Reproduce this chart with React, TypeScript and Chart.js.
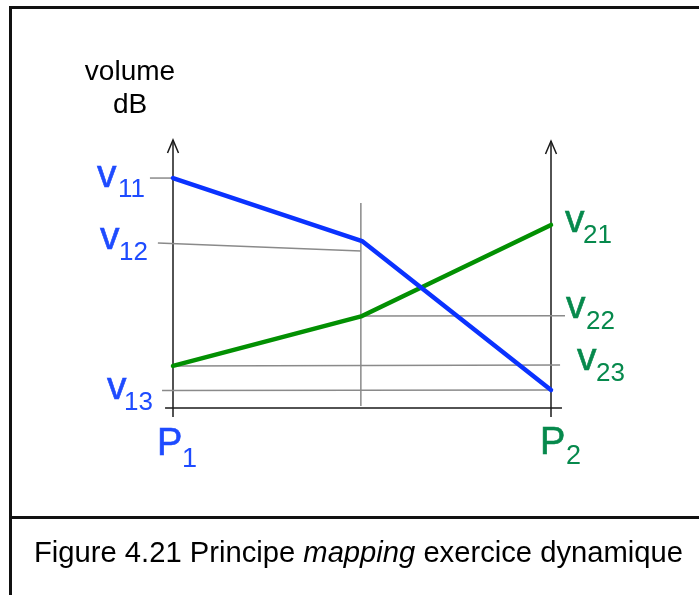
import React, { useEffect, useRef } from "react";
import { Chart, registerables } from "chart.js";

Chart.register(...registerables);

// positions along the horizontal axis: P1, middle, P2
const POS = [0, 0.5, 1];
// volume values (arbitrary dB units, 0 = horizontal axis)
const BLUE_VALUES = [85.8, 62.3, 6.7];
const GREEN_VALUES = [15.7, 34.3, 68.3];

// hand-drawn guide lines [x, y] pairs
const GUIDE_V11 = [[-0.061, 85.8], [0, 85.8]];
const GUIDE_V12 = [[-0.04, 61.6], [0.497, 58.6]];
const GUIDE_MID = [[0.497, 76.5], [0.497, 0.75]];
const GUIDE_V22 = [[0.497, 34.3], [1.037, 34.4]];
const GUIDE_V23 = [[0, 15.7], [1.024, 16.0]];
const GUIDE_V13 = [[-0.029, 6.5], [1, 6.7]];
const AXIS_X = [[-0.021, 0], [1.029, 0]];
const AXIS_P1 = [[0, -3.4], [0, 100]];
const AXIS_P2 = [[1, -3.4], [1, 99.6]];

const BLUE_SUBS = ["11", "12", "13"];
const GREEN_SUBS = ["21", "22", "23"];
const P_SUBS = ["1", "2"];
const Y_TITLE = ["volume", "dB"];
const CAPTION = ["Figure 4.21 Principe ", "mapping", " exercice dynamique"];

const FONT = '"Liberation Sans", Arial, Helvetica, sans-serif';
const BLUE_LINE = "#0a32ff";
const BLUE_TEXT = "#1e4bff";
const GREEN_LINE = "#029002";
const GREEN_TEXT = "#06894c";
const GRAY = "#8a8a8a";
const BLACK = "#1a1a1a";

const pts = (arr: number[][]) => arr.map(([x, y]) => ({ x, y }));

export default function App() {
  const ref = useRef<HTMLCanvasElement | null>(null);

  useEffect(() => {
    const canvas = ref.current;
    if (!canvas) return;

    const guide = (arr: number[][], color: string, width: number) => ({
      data: pts(arr),
      borderColor: color,
      borderWidth: width,
      pointRadius: 0,
      fill: false,
      tension: 0,
      clip: false as const,
    });

    const decor = {
      id: "decor",
      afterDraw(chart: any) {
        const ctx = chart.ctx as CanvasRenderingContext2D;
        const xs = chart.scales.x;
        const ys = chart.scales.y;
        const p1x = xs.getPixelForValue(POS[0]);
        const p2x = xs.getPixelForValue(POS[2]);
        const axisY = ys.getPixelForValue(0);
        ctx.save();

        // frame
        ctx.strokeStyle = "#111";
        ctx.lineWidth = 3;
        ctx.beginPath();
        ctx.moveTo(10.5, 600);
        ctx.lineTo(10.5, 7.5);
        ctx.lineTo(705, 7.5);
        ctx.moveTo(9, 517.5);
        ctx.lineTo(705, 517.5);
        ctx.stroke();

        // arrow heads
        ctx.strokeStyle = BLACK;
        ctx.lineWidth = 1.5;
        const arrow = (x: number, y: number) => {
          ctx.beginPath();
          ctx.moveTo(x - 5.5, y + 13);
          ctx.lineTo(x, y);
          ctx.lineTo(x + 5.5, y + 13);
          ctx.stroke();
        };
        arrow(p1x, ys.getPixelForValue(AXIS_P1[1][1]));
        arrow(p2x, ys.getPixelForValue(AXIS_P2[1][1]));

        ctx.textBaseline = "alphabetic";
        ctx.textAlign = "left";
        const lab = (
          color: string,
          main: string,
          sub: string,
          ax: number,
          ay: number,
          mdx: number,
          mdy: number,
          sdx: number,
          sdy: number,
          mainSize: number,
          subSize: number
        ) => {
          ctx.fillStyle = color;
          ctx.strokeStyle = color;
          ctx.lineWidth = 0.6;
          ctx.font = `${mainSize}px ${FONT}`;
          ctx.fillText(main, ax + mdx, ay + mdy);
          ctx.strokeText(main, ax + mdx, ay + mdy);
          ctx.font = `${subSize}px ${FONT}`;
          ctx.fillText(sub, ax + sdx, ay + sdy);
        };
        const yB0 = ys.getPixelForValue(BLUE_VALUES[0]);
        const yV12 = ys.getPixelForValue(GUIDE_V12[0][1]);
        const yV13 = ys.getPixelForValue(GUIDE_V13[0][1]);
        const yG2 = ys.getPixelForValue(GREEN_VALUES[2]);
        const yV22 = ys.getPixelForValue(GUIDE_V22[1][1]);
        const yV23 = ys.getPixelForValue(GUIDE_V23[1][1]);
        lab(BLUE_TEXT, "v", BLUE_SUBS[0], p1x, yB0, -76, 9, -55, 19, 39, 26);
        lab(BLUE_TEXT, "v", BLUE_SUBS[1], p1x, yV12, -73, 6, -54, 17, 39, 26);
        lab(BLUE_TEXT, "v", BLUE_SUBS[2], p1x, yV13, -66, 8, -49, 19, 39, 26);
        lab(GREEN_TEXT, "v", GREEN_SUBS[0], p2x, yG2, 14, 7, 32, 18, 39, 26);
        lab(GREEN_TEXT, "v", GREEN_SUBS[1], p2x, yV22, 15, 2, 35, 13, 39, 26);
        lab(GREEN_TEXT, "v", GREEN_SUBS[2], p2x, yV23, 26, 5, 45, 16, 39, 26);
        lab(BLUE_TEXT, "P", P_SUBS[0], p1x, axisY, -16, 47, 9, 59, 38, 27);
        lab(GREEN_TEXT, "P", P_SUBS[1], p2x, axisY, -11, 46, 15, 56, 38, 27);

        // y title
        ctx.fillStyle = "#000";
        ctx.textAlign = "center";
        ctx.font = `28px ${FONT}`;
        ctx.fillText(Y_TITLE[0], p1x - 43, 80);
        ctx.fillText(Y_TITLE[1], p1x - 43, 113);

        // caption
        ctx.textAlign = "left";
        let cx = 34;
        const cy = 562;
        CAPTION.forEach((t, i) => {
          ctx.font = `${i === 1 ? "italic " : ""}29.2px ${FONT}`;
          ctx.fillText(t, cx, cy);
          cx += ctx.measureText(t).width;
        });
        ctx.restore();
      },
    };

    const chart = new Chart(canvas, {
      type: "line",
      data: {
        datasets: [
          {
            data: POS.map((x, i) => ({ x, y: BLUE_VALUES[i] })),
            borderColor: BLUE_LINE,
            borderWidth: 4.5,
            pointRadius: 0,
            borderJoinStyle: "round",
            borderCapStyle: "round",
            tension: 0,
            clip: false,
          },
          {
            data: POS.map((x, i) => ({ x, y: GREEN_VALUES[i] })),
            borderColor: GREEN_LINE,
            borderWidth: 4.5,
            pointRadius: 0,
            borderJoinStyle: "round",
            borderCapStyle: "round",
            tension: 0,
            clip: false,
          },
          guide(GUIDE_V11, GRAY, 1.5),
          guide(GUIDE_V12, GRAY, 1.5),
          guide(GUIDE_MID, GRAY, 1.5),
          guide(GUIDE_V22, GRAY, 1.5),
          guide(GUIDE_V23, GRAY, 1.5),
          guide(GUIDE_V13, GRAY, 1.5),
          guide(AXIS_X, BLACK, 1.5),
          guide(AXIS_P1, BLACK, 1.5),
          guide(AXIS_P2, BLACK, 1.5),
        ] as any,
      },
      options: {
        animation: false,
        responsive: false,
        devicePixelRatio: 1,
        layout: { padding: { left: 173, right: 148, top: 140, bottom: 187 } },
        scales: {
          x: { type: "linear", min: 0, max: 1, display: false },
          y: { type: "linear", min: 0, max: 100, display: false },
        },
        plugins: {
          legend: { display: false },
          tooltip: { enabled: false },
        },
        events: [],
      },
      plugins: [decor],
    });

    return () => chart.destroy();
  }, []);

  return (
    <div style={{ position: "fixed", left: 0, top: 0, width: 699, height: 595, background: "#fff" }}>
      <canvas ref={ref} width={699} height={595} style={{ display: "block" }} />
    </div>
  );
}
